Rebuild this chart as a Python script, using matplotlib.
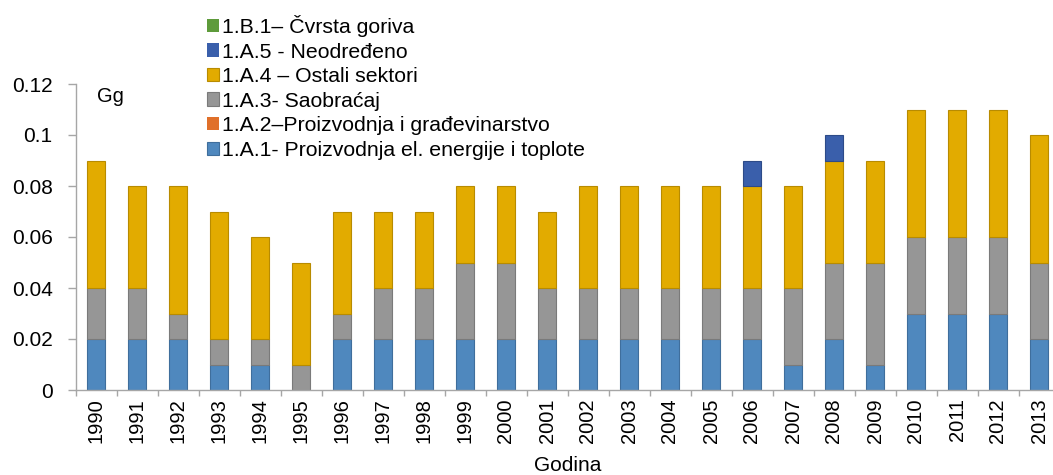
import numpy as np
import matplotlib
matplotlib.use("Agg")
import matplotlib.pyplot as plt

plt.rcParams['font.family'] = ['Liberation Sans', 'DejaVu Sans']

years = [str(y) for y in range(1990, 2014)]
a1 = [0.02, 0.02, 0.02, 0.01, 0.01, 0.00, 0.02, 0.02, 0.02, 0.02, 0.02, 0.02,
      0.02, 0.02, 0.02, 0.02, 0.02, 0.01, 0.02, 0.01, 0.03, 0.03, 0.03, 0.02]
a2 = [0.0] * 24
a3 = [0.02, 0.02, 0.01, 0.01, 0.01, 0.01, 0.01, 0.02, 0.02, 0.03, 0.03, 0.02,
      0.02, 0.02, 0.02, 0.02, 0.02, 0.03, 0.03, 0.04, 0.03, 0.03, 0.03, 0.03]
a4 = [0.05, 0.04, 0.05, 0.05, 0.04, 0.04, 0.04, 0.03, 0.03, 0.03, 0.03, 0.03,
      0.04, 0.04, 0.04, 0.04, 0.04, 0.04, 0.04, 0.04, 0.05, 0.05, 0.05, 0.05]
a5 = [0.0] * 16 + [0.01, 0.0, 0.01, 0.0, 0.0, 0.0, 0.0, 0.0]
b1 = [0.0] * 24

series = [
    ("1.A.1- Proizvodnja el. energije i toplote", a1, "#4F88BE", "#3F6E9C"),
    ("1.A.2–Proizvodnja i građevinarstvo", a2, "#E0702A", "#B85A20"),
    ("1.A.3- Saobraćaj", a3, "#969696", "#7A7A7A"),
    ("1.A.4 – Ostali sektori", a4, "#E2AB00", "#B88B00"),
    ("1.A.5 - Neodređeno", a5, "#3A5FAB", "#2D4B88"),
    ("1.B.1– Čvrsta goriva", b1, "#5E9B3B", "#4A7B2E"),
]

fig = plt.figure(figsize=(10.53, 4.75), dpi=100)
ax = fig.add_axes([75.5 / 1053, 85 / 475, 984 / 1053, 306 / 475])

x = np.arange(len(years))
bottom = np.zeros(len(years))
handles = []
for label, vals, fc, ec in series:
    v = np.array(vals)
    lw = [0.8 if val > 0 else 0 for val in v]
    b = ax.bar(x, v, width=0.44, bottom=bottom, color=fc, edgecolor=ec,
               linewidth=lw, label=label, zorder=2)
    handles.append(b)
    bottom = bottom + v

ax.set_xlim(-0.5, len(years) - 0.5)
ax.set_ylim(0, 0.12)
ax.set_yticks([0, 0.02, 0.04, 0.06, 0.08, 0.1, 0.12])
ax.set_yticklabels(["0", "0.02", "0.04", "0.06", "0.08", "0.1", "0.12"], fontsize=15)
ax.set_xticks(x)
ax.set_xticklabels(years, rotation=90, fontsize=14.5)
ax.tick_params(axis='x', length=0, pad=6)
ax.set_xticks(np.arange(-0.5, len(years) + 0.5, 1), minor=True)
ax.tick_params(axis='x', which='minor', length=4.5, color='#A6A6A6', width=1)
ax.tick_params(axis='y', length=6, color='#A6A6A6', width=1, pad=10.5)

for s in ['top', 'right']:
    ax.spines[s].set_visible(False)
for s in ['left', 'bottom']:
    ax.spines[s].set_color('#A6A6A6')
    ax.spines[s].set_linewidth(1)

ax.set_xlabel("Godina", fontsize=15, labelpad=9)
ax.text(0.022, 0.941, "Gg", transform=ax.transAxes, fontsize=14.5,
        va='baseline', ha='left')

leg = fig.legend(handles[::-1], [s[0] for s in series][::-1], loc='upper left',
                 bbox_to_anchor=(207 / 1053, 1 - 15 / 475), frameon=False,
                 fontsize=15.3, handlelength=0.58, handleheight=0.58,
                 handletextpad=0.12, labelspacing=0.26, borderpad=0,
                 borderaxespad=0)

fig.savefig("out.png", dpi=100)
